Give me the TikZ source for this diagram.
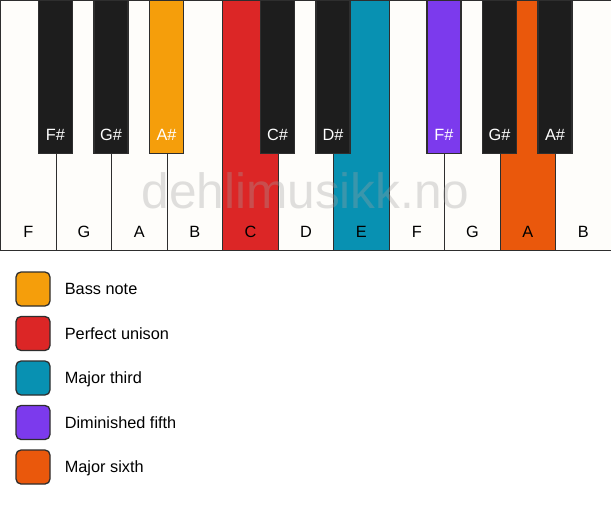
\documentclass[tikz,border=0pt]{standalone}
\usepackage{fontspec}
\setmainfont{Liberation Sans}
\usetikzlibrary{positioning}

\definecolor{ivory}{HTML}{FEFDFA}
\definecolor{keyline}{HTML}{2E2E2E}
\definecolor{blackkey}{HTML}{1D1D1D}
\definecolor{bass}{HTML}{F59E0B}
\definecolor{unison}{HTML}{DC2626}
\definecolor{third}{HTML}{0891B2}
\definecolor{diminished}{HTML}{7C3AED}
\definecolor{sixth}{HTML}{EA580C}

\begin{document}
\begin{tikzpicture}%
[x=1pt,y=-1pt,%
white key/.style={draw=keyline, line width=1.3pt, anchor=north west, inner sep=0pt, minimum width=55.5pt, minimum height=250pt},%
black key/.style={draw=keyline, line width=1.3pt, anchor=north, inner sep=0pt, minimum width=34pt, minimum height=153pt},%
key name/.style={inner sep=0pt, text height=11.6pt, text depth=0pt, font=\fontsize{16.3}{19}\selectfont},%
swatch/.style={draw=keyline, line width=1.3pt, rounded corners=5pt, inner sep=0pt, minimum size=34pt},%
legend text/.style={key name, anchor=west}]

\fill[white] (0,0) rectangle (611,506);
\useasboundingbox (0,0) rectangle (611,506);

% white keys
\foreach \name/\col [count=\i from 0] in {F/ivory,G/ivory,A/ivory,B/ivory,C/unison,D/ivory,E/third,F/ivory,G/ivory,A/sixth,B/ivory}
{
  \node[white key, fill=\col] (w\i) at (\i*55.5,0) {};
  \node[key name] (wn\i) at ([yshift=19.5pt]w\i.south) {\name};
}

% black keys
\foreach \name/\col/\pos [count=\j] in {F\#/blackkey/1,G\#/blackkey/2,A\#/bass/3,C\#/blackkey/5,D\#/blackkey/6,F\#/diminished/8,G\#/blackkey/9,A\#/blackkey/10}
{
  \node[black key, fill=\col] (b\j) at (\pos*55.5,0) {};
  \node[key name, text=white] (bn\j) at ([yshift=19.5pt]b\j.south) {\name};
}

% watermark
\node[inner sep=0pt, text height=35.8pt, text depth=0pt, text=black!37, opacity=.33,
  font=\fontsize{49.6}{55}\selectfont] (mark) at (305.5,190.5) {dehlimusikk.no};

% legend
\foreach \col/\txt [count=\k from 0] in {bass/Bass note,unison/Perfect unison,third/Major third,diminished/Diminished fifth,sixth/Major sixth}
{
  \node[swatch, fill=\col] (s\k) at (33,289+\k*44.5) {};
  \node[legend text, right=14pt of s\k] (t\k) {\txt};
}
\end{tikzpicture}
\end{document}
